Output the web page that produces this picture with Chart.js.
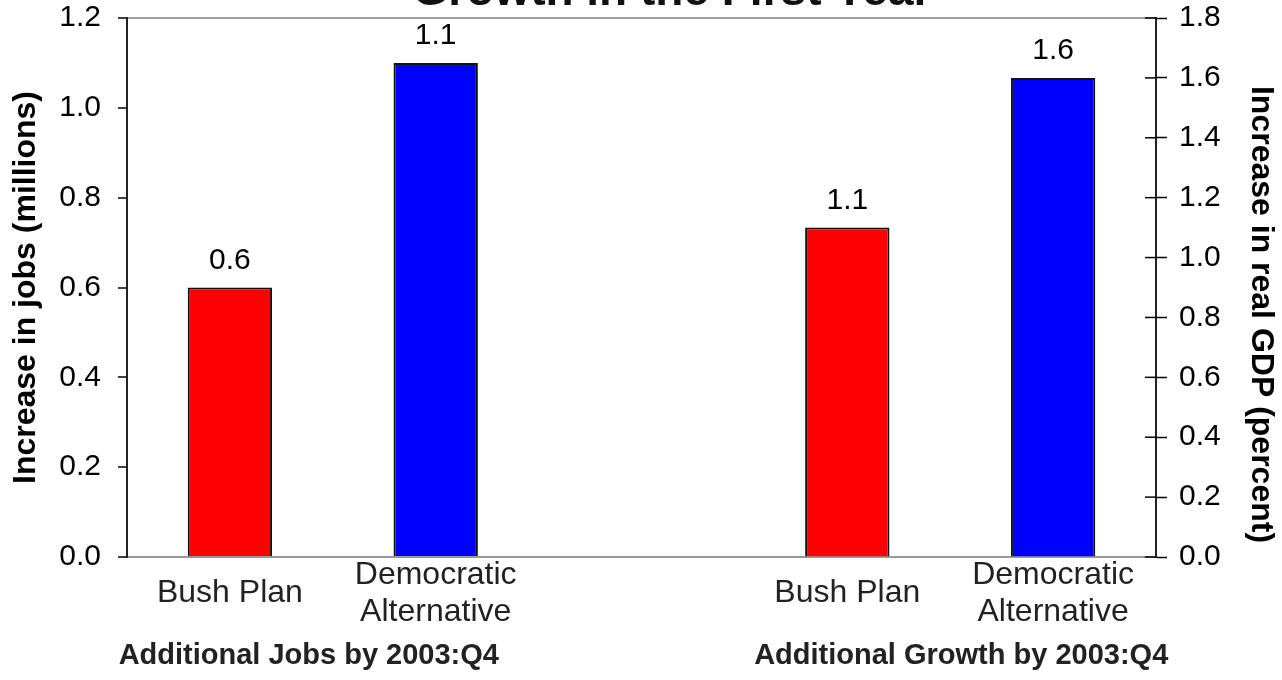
<!DOCTYPE html>
<html>
<head>
<meta charset="utf-8">
<script src="https://cdn.jsdelivr.net/npm/chart.js@4"></script>
<style>
  html, body { margin: 0; padding: 0; background: #fff; overflow: hidden; }
  #wrap { width: 1282px; height: 680px; }
</style>
</head>
<body>
<div id="wrap"><canvas id="chart" width="1282" height="680"></canvas></div>
<script>
// data
const categories = [['Bush Plan'], ['Democratic', 'Alternative'], '', ['Bush Plan'], ['Democratic', 'Alternative']];
const jobsValues = [0.6, 1.1];      // millions, left axis
const growthValues = [1.1, 1.6];    // percent, right axis
const barColors = ['#ff0000', '#0000ff'];
const groupLabels = ['Additional Jobs by 2003:Q4', 'Additional Growth by 2003:Q4'];
const chartTitle = 'Growth in the First Year';
const rightTitle = 'Increase in real GDP (percent)';

const FONT = '"Liberation Sans", Arial, sans-serif';

// pad each series out to the 5 slots (middle slot is the gap)
const jobsData = [jobsValues[0], jobsValues[1], null, null, null];
const growthData = [null, null, null, growthValues[0], growthValues[1]];

// value labels above bars
const valueLabels = {
  id: 'valueLabels',
  afterDatasetsDraw(chart) {
    const ctx = chart.ctx;
    ctx.save();
    ctx.font = '30px ' + FONT;
    ctx.fillStyle = '#000';
    ctx.textAlign = 'center';
    ctx.textBaseline = 'middle';
    chart.data.datasets.forEach((ds, i) => {
      chart.getDatasetMeta(i).data.forEach((bar, j) => {
        if (ds.data[j] == null) return;
        ctx.fillText(ds.data[j].toFixed(1), bar.x, bar.y - 27);
      });
    });
    ctx.restore();
  }
};

// inward half of the right axis ticks, titles and group captions
const extras = {
  id: 'extras',
  afterDraw(chart) {
    const ctx = chart.ctx;
    const y1 = chart.scales.y1;
    const x = chart.scales.x;
    const area = chart.chartArea;
    ctx.save();
    ctx.strokeStyle = '#000';
    ctx.lineWidth = 1.5;
    y1.ticks.forEach(t => {
      const py = y1.getPixelForValue(t.value);
      ctx.beginPath();
      ctx.moveTo(area.right - 11, py);
      ctx.lineTo(area.right, py);
      ctx.stroke();
    });

    ctx.fillStyle = '#222';
    ctx.textAlign = 'center';
    ctx.textBaseline = 'middle';
    ctx.font = 'bold 29px ' + FONT;
    const mid1 = (x.getPixelForValue(0) + x.getPixelForValue(1)) / 2 - 24;
    const mid2 = (x.getPixelForValue(3) + x.getPixelForValue(4)) / 2 + 11;
    ctx.fillText(groupLabels[0], mid1, 656);
    ctx.fillText(groupLabels[1], mid2, 656);

    // right axis title, sits a little below the middle in the original
    ctx.save();
    ctx.fillStyle = '#000';
    ctx.font = 'bold 32px ' + FONT;
    ctx.translate(1261, (area.top + area.bottom) / 2 + 27);
    ctx.rotate(Math.PI / 2);
    ctx.fillText(rightTitle, 0, 0);
    ctx.restore();

    ctx.font = 'bold 46px ' + FONT;
    ctx.textBaseline = 'alphabetic';
    ctx.fillStyle = '#111';
    ctx.fillText(chartTitle, 672, 5);
    ctx.restore();
  }
};

function fixVertical(width) {
  return s => {
    s.width = width;
    s.paddingTop = 0;
    s.paddingBottom = 0;
  };
}

new Chart(document.getElementById('chart'), {
  type: 'bar',
  data: {
    labels: categories,
    datasets: [
      {
        label: 'Jobs',
        data: jobsData,
        yAxisID: 'y',
        backgroundColor: barColors.concat(['#fff']).concat(barColors),
        borderColor: '#111',
        borderWidth: 2,
        barPercentage: 0.41,
        categoryPercentage: 1,
        grouped: false
      },
      {
        label: 'Growth',
        data: growthData,
        yAxisID: 'y1',
        backgroundColor: ['#fff', '#fff', '#fff'].concat(barColors),
        borderColor: '#111',
        borderWidth: 2,
        barPercentage: 0.41,
        categoryPercentage: 1,
        grouped: false
      }
    ]
  },
  options: {
    responsive: false,
    animation: false,
    layout: { padding: { top: 18, left: 0, right: 0, bottom: 0 } },
    plugins: {
      legend: { display: false },
      tooltip: { enabled: false }
    },
    scales: {
      x: {
        grid: { display: false },
        border: { color: '#999', width: 2 },
        ticks: {
          color: '#222',
          padding: 10,
          crossAlign: 'center',
          font: { family: FONT, size: 32, lineHeight: 1.15 },
          maxRotation: 0,
          autoSkip: false
        },
        afterFit(s) { s.height = 123; }
      },
      y: {
        position: 'left',
        min: 0,
        max: 1.2,
        ticks: {
          stepSize: 0.2,
          color: '#000',
          padding: 17,
          font: { family: FONT, size: 30 },
          callback: v => v.toFixed(1)
        },
        grid: {
          drawOnChartArea: true,
          color: c => c.index === 6 ? '#a0a0a0' : 'rgba(0,0,0,0)',
          lineWidth: 2,
          tickColor: '#000',
          tickLength: 9,
          tickWidth: 1.5
        },
        border: { color: '#222', width: 2 },
        title: {
          display: true,
          text: 'Increase in jobs (millions)',
          color: '#000',
          font: { family: FONT, size: 32, weight: 'bold' },
          padding: { top: 7, bottom: 0 }
        },
        afterFit: fixVertical(127)
      },
      y1: {
        position: 'right',
        min: 0,
        max: 1.8,
        ticks: {
          stepSize: 0.2,
          color: '#000',
          padding: 12,
          font: { family: FONT, size: 30 },
          callback: v => v.toFixed(1)
        },
        grid: {
          drawOnChartArea: false,
          tickColor: '#000',
          tickLength: 11,
          tickWidth: 1.5
        },
        border: { color: '#222', width: 2 },
        afterFit: fixVertical(126)
      }
    }
  },
  plugins: [valueLabels, extras]
});
</script>
</body>
</html>
